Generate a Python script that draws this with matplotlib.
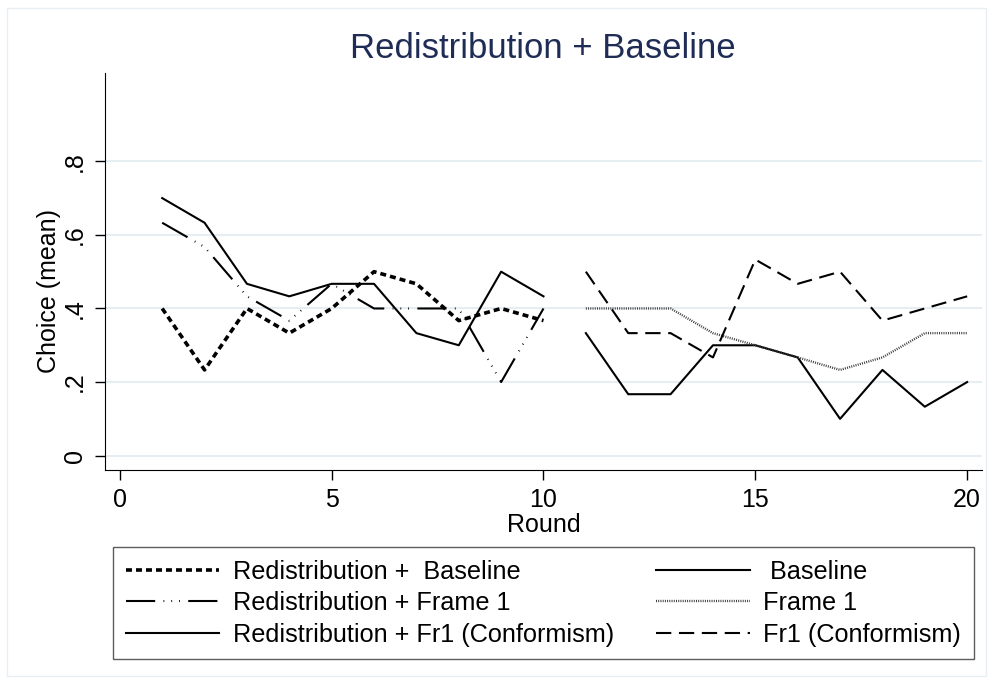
import matplotlib.pyplot as plt
from matplotlib.patches import Rectangle

plt.rcParams["font.family"] = ["Liberation Sans", "DejaVu Sans"]
plt.rcParams["lines.scale_dashes"] = False

# rounds 1-10: redistribution treatments, rounds 11-20: without redistribution
rounds_a = [1, 2, 3, 4, 5, 6, 7, 8, 9, 10]
rounds_b = [11, 12, 13, 14, 15, 16, 17, 18, 19, 20]

redist_baseline = [0.4, 0.233, 0.4, 0.333, 0.4, 0.5, 0.467, 0.367, 0.4, 0.367]
redist_frame1 = [0.633, 0.567, 0.433, 0.367, 0.467, 0.4, 0.4, 0.4, 0.2, 0.4]
redist_fr1_conf = [0.7, 0.633, 0.467, 0.433, 0.467, 0.467, 0.333, 0.3, 0.5, 0.433]

baseline = [0.333, 0.167, 0.167, 0.3, 0.3, 0.267, 0.1, 0.233, 0.133, 0.2]
frame1 = [0.4, 0.4, 0.4, 0.333, 0.3, 0.267, 0.233, 0.267, 0.333, 0.333]
fr1_conf = [0.5, 0.333, 0.333, 0.267, 0.533, 0.467, 0.5, 0.367, 0.4, 0.433]

y_ticks = [0, 0.2, 0.4, 0.6, 0.8]
y_tick_labels = ["0", ".2", ".4", ".6", ".8"]
x_ticks = [0, 5, 10, 15, 20]

fig = plt.figure(figsize=(9.93, 6.84), dpi=100)
fig.patches.append(Rectangle((7 / 993, 8 / 684), 979 / 993, 668 / 684,
                             transform=fig.transFigure, fill=False,
                             edgecolor="#e8eff2", linewidth=1))
ax = fig.add_axes([105 / 993, 214 / 684, 877 / 993, 397 / 684])

ax.plot(rounds_a, redist_baseline, color="black", lw=2.6,
        linestyle=(0, (4.3, 2.9)), label="Redistribution +  Baseline")
ax.plot(rounds_a, redist_frame1, color="black", lw=1.5,
        linestyle=(0, (21, 6, 0.6, 5, 0.6, 5, 0.6, 6)),
        label="Redistribution + Frame 1")
ax.plot(rounds_a, redist_fr1_conf, color="black", lw=1.5,
        label="Redistribution + Fr1 (Conformism)")
ax.plot(rounds_b, baseline, color="black", lw=1.5, label=" Baseline")
ax.plot(rounds_b, frame1, color="#3a3a3a", lw=1.7,
        linestyle=(0, (0.7, 0.9)), label="Frame 1")
ax.plot(rounds_b, fr1_conf, color="black", lw=1.5,
        linestyle=(0, (11, 5.5)), label="Fr1 (Conformism)")

ax.set_xlim(-0.35, 20.35)
ax.set_ylim(-0.039, 1.04)
ax.set_xticks(x_ticks)
ax.set_yticks(y_ticks)
ax.set_yticklabels(y_tick_labels, rotation=90, va="center")
ax.tick_params(axis="both", labelsize=18, length=7, width=1, pad=6)
ax.grid(axis="y", color="#e6eef3", linewidth=1.5)
ax.set_axisbelow(True)
for side in ["top", "right"]:
    ax.spines[side].set_visible(False)

ax.set_xlabel("Round", fontsize=18, labelpad=1)
ax.set_ylabel("Choice (mean)", fontsize=18)
ax.yaxis.set_label_coords(-0.05, 0.45)
fig.text(0.547, 1 - 48 / 684, "Redistribution + Baseline", fontsize=25,
         color="#1f2d56", ha="center", va="center")

leg = ax.legend(ncol=2, loc="upper left",
                bbox_to_anchor=(113 / 993, 1 - 547 / 684),
                bbox_transform=fig.transFigure, fontsize=18.2,
                frameon=True, fancybox=False, handlelength=3.7,
                handletextpad=0.55, columnspacing=1.65, labelspacing=0.3,
                borderpad=0.5, borderaxespad=0)
leg.get_frame().set_edgecolor("#333333")
leg.get_frame().set_linewidth(1)

fig.savefig("out.png", dpi=100)
